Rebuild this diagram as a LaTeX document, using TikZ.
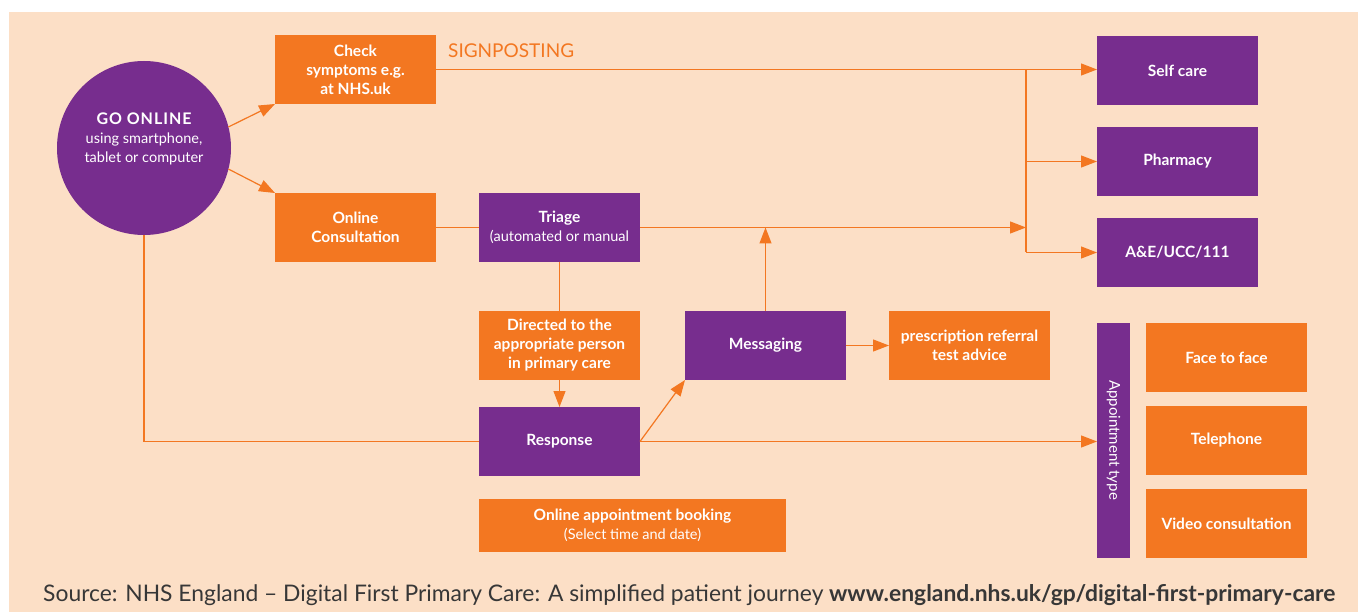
\documentclass[tikz,border=0pt]{standalone}
\usepackage{fontspec}
\usepackage{graphicx}
\setmainfont{Lato}
\usetikzlibrary{arrows.meta,calc}
\definecolor{nhspurple}{RGB}{119,45,142}
\definecolor{nhsorange}{RGB}{243,119,33}
\definecolor{nhspeach}{RGB}{252,223,198}
\definecolor{footgray}{RGB}{55,55,55}
\begin{document}
\begin{tikzpicture}[x=1pt,y=-1pt,
  box/.style={anchor=north west, inner sep=0pt, outer sep=0pt, text=white, align=center, font=\fontsize{15.5}{19}\selectfont\bfseries},
  obox/.style={box, fill=nhsorange},
  pbox/.style={box, fill=nhspurple},
  conn/.style={draw=nhsorange, line width=1.2pt},
  arr/.style={conn, -{Triangle[length=16pt,width=12pt]}},
]
\fill[white] (0,0) rectangle (1358,612);
\useasboundingbox (0,0) rectangle (1358,612);
\fill[nhspeach] (9,12) rectangle (1358,612);

% circle
\node[circle, fill=nhspurple, minimum size=174pt, inner sep=0pt, outer sep=0pt] (go) at (144,148) {};
\node[text=white, align=center, font=\fontsize{14.5}{19}\selectfont] (golabel) at (144,139)
  {{\fontsize{16}{19}\selectfont\bfseries\addfontfeatures{LetterSpace=6}GO ONLINE}\\using smartphone,\\tablet or computer};

% left column
\node[obox, minimum width=161pt, minimum height=69pt] (check) at (275,35) {Check\\symptoms e.g.\\at NHS.uk};
\node[obox, minimum width=161pt, minimum height=69pt] (consult) at (275,193) {Online\\Consultation};

\node[anchor=west, inner sep=0pt, text=nhsorange, font=\fontsize{19}{22}\selectfont] (signpost) at (448,51) {SIGNPOSTING};

% middle
\node[pbox, minimum width=161pt, minimum height=69pt] (triage) at (479,193)
  {Triage\\{\fontsize{14.5}{19}\selectfont\mdseries (automated or manual}};
\node[obox, minimum width=161pt, minimum height=69pt] (directed) at (479,311) {Directed to the\\appropriate person\\in primary care};
\node[pbox, minimum width=161pt, minimum height=69pt] (resp) at (479,407) {Response};
\node[obox, minimum width=307pt, minimum height=53pt] (booking) at (479,499)
  {Online appointment booking\\{\fontsize{14.5}{19}\selectfont\mdseries (Select time and date)}};
\node[pbox, minimum width=161pt, minimum height=69pt] (msg) at (685,311) {Messaging};
\node[obox, minimum width=161pt, minimum height=69pt] (presc) at (889,311) {prescription referral\\test advice};

% right column
\node[pbox, minimum width=161pt, minimum height=69pt] (self) at (1097,36) {Self care};
\node[pbox, minimum width=161pt, minimum height=69pt] (pharm) at (1097,127) {Pharmacy};
\node[pbox, minimum width=161pt, minimum height=69pt] (ae) at (1097,218) {A\&E/UCC/111};

\node[pbox, minimum width=33pt, minimum height=235pt] (appt) at (1097,323) {};
\node[rotate=-90, text=white, inner sep=0pt, font=\fontsize{15}{17}\selectfont] (apptlabel) at (1113.5,440) {Appointment type};
\node[obox, minimum width=161pt, minimum height=69pt] (face) at (1146,323) {Face to face};
\node[obox, minimum width=161pt, minimum height=69pt] (tel) at (1146,406) {Telephone};
\node[obox, minimum width=161pt, minimum height=69pt] (video) at (1146,489) {Video consultation};

% connectors
\draw[arr] (go.14.5) -- (check.south west);
\draw[arr] (go.-14.5) -- (consult.north west);
\draw[conn] (go.south) |- (resp.west);

\coordinate (jt) at (1026,70);
\draw[arr] (check.east) -- (self.west |- check.east);
\draw[conn] (jt) -- (jt |- ae.west);
\draw[arr] (jt |- pharm.west) -- (pharm.west);
\draw[arr] (jt |- ae.west) -- (ae.west);

\draw[conn] (consult.east) -- (triage.west);
\draw[arr] (triage.east) -- (jt |- triage.east);
\draw[arr] (msg.north) -- (msg.north |- triage.east);
\draw[conn] (triage.south) -- (directed.north);
\draw[arr] (directed.south) -- (resp.north);
\draw[arr] (resp.east) -- (msg.south west);
\draw[arr] (resp.east) -- (appt.west |- resp.east);
\draw[arr] (msg.east) -- (presc.west);

% footer
\node[anchor=base west, inner sep=0pt, text=footgray] (source) at (43,601)
  {\resizebox{1292pt}{!}{Source: NHS England – Digital First Primary Care: A simplified patient journey \textbf{www.england.nhs.uk/gp/digital-first-primary-care}}};
\end{tikzpicture}
\end{document}
